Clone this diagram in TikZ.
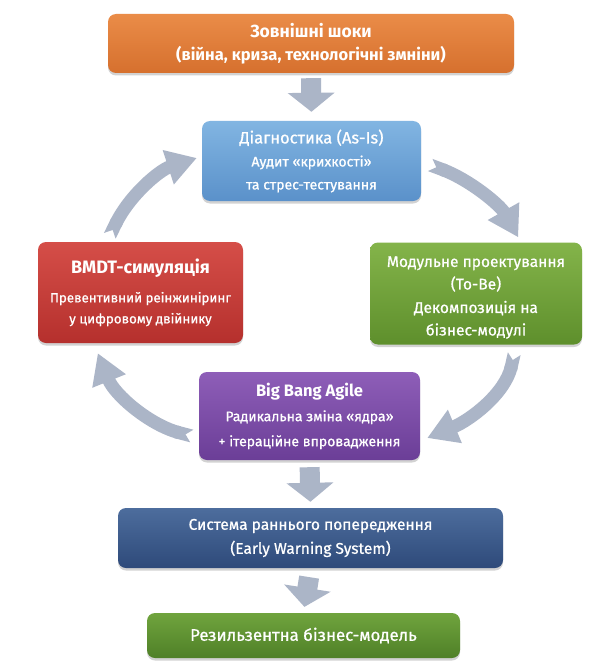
\documentclass[tikz,border=0pt]{standalone}
\usepackage{fontspec}
\setmainfont{Fira Sans}
\newfontfamily\med{Fira Sans}[FakeBold=0.8]
\usetikzlibrary{arrows.meta,shadows,calc}
\definecolor{arrgray}{HTML}{ABB5C7}
\definecolor{orT}{HTML}{EA8C48}\definecolor{orB}{HTML}{D6702E}
\definecolor{blT}{HTML}{82B5E2}\definecolor{blB}{HTML}{5A91CA}
\definecolor{rdT}{HTML}{D54E48}\definecolor{rdB}{HTML}{B5302D}
\definecolor{gnT}{HTML}{84B44A}\definecolor{gnB}{HTML}{5E8F2C}
\definecolor{puT}{HTML}{8E5EB8}\definecolor{puB}{HTML}{6B3E97}
\definecolor{nvT}{HTML}{4D6D9D}\definecolor{nvB}{HTML}{2E4A7A}
\definecolor{g2T}{HTML}{70A43E}\definecolor{g2B}{HTML}{4F8027}
\newcommand{\fs}[2]{\fontsize{#1}{#2}\selectfont}
\tikzset{
  box/.style={rounded corners=8pt, inner sep=0pt, text=white, align=center,
    drop shadow={opacity=0.35, shadow xshift=0pt, shadow yshift=-2.5pt}},
  boxtext/.style={inner sep=0pt, text=white, align=center},
  downarr/.style={draw=arrgray, line width=20pt, -{Triangle[width=46pt,length=19pt]}},
  cyclearr/.style={draw=arrgray, line width=13pt, {Triangle Cap[reversed]}-{Triangle[width=34pt,length=30pt]}},
}
\begin{document}
\begin{tikzpicture}[x=1pt,y=-1pt]
\useasboundingbox (0,0) rectangle (602,666);
\fill[white] (0,0) rectangle (602,666);

\node[box, top color=orT, bottom color=orB, minimum width=406pt, minimum height=59pt,
  font=\fs{16.5}{23}] (shock) at (311,43.5)
  {\fs{17.5}{23}\bfseries Зовнішні шоки\\ \fs{16.5}{23}\bfseries (війна, криза, технологічні змніни)};

\node[box, top color=blT, bottom color=blB, minimum width=219pt, minimum height=80pt,
  font=\fs{14}{23}] (diag) at (311.5,161)
  {\med\fs{16.5}{23}Діагностика (As-Is)\\
   \med\fs{14}{23}Аудит «крихкості»\\ \med\fs{14}{23}та стрес-тестування};

\node[box, top color=rdT, bottom color=rdB, minimum width=205pt, minimum height=101pt,
  font=\fs{13.5}{21}] (red) at (140.5,292.5)
  {\fs{18}{21}\bfseries BMDT-симуляція\\[8pt]
   \med\fs{13.3}{21}Превентивний реінжиніринг\\ \med\fs{13.3}{21}у цифровому двійнику};

\node[box, top color=gnT, bottom color=gnB, minimum width=212pt, minimum height=102pt] (mod) at (476,293.5) {};
\node[boxtext, font=\fs{15.5}{22.5}] (modt) at ($(mod.center)+(0,4)$)
  {\med\fs{15.5}{22.5}Модульне проектування\\ \med\fs{15.5}{22.5}(To-Be)\\[1pt]
   \med\fs{15.5}{22.5}Декомпозиція на\\ \med\fs{15.5}{22.5}бізнес-модулі};

\node[box, top color=puT, bottom color=puB, minimum width=221pt, minimum height=88pt,
  font=\fs{14}{25}] (bba) at (309.5,416)
  {\fs{16.5}{25}\bfseries Big Bang Agile\\
   \med\fs{14}{25}Радикальна зміна «ядра»\\ \med\fs{14}{25}+ ітераційне впровадження};

\node[box, top color=nvT, bottom color=nvB, minimum width=385pt, minimum height=60pt,
  font=\fs{15.5}{24}] (ews) at (310.5,538)
  {\med\fs{15.5}{24}Система раннього попередження\\ \med\fs{15.5}{24}(Early Warning System)};

\node[box, top color=g2T, bottom color=g2B, minimum width=313pt, minimum height=45pt,
  font=\fs{16.8}{20}] (res) at (303.5,635.5)
  {\med\fs{16.8}{20}Резильзентна бізнес-модель};

\draw[downarr, shorten <=5pt, shorten >=9pt] (shock.south) -- (diag.north);
\draw[downarr, shorten <=7pt, shorten >=6pt] (bba.south) -- (ews.north);
\draw[downarr, shorten <=9pt, shorten >=6pt] (ews.south) -- (res.north);

\coordinate (tlS) at ($(red.north west)+(72,-6)$);
\coordinate (tlE) at ($(diag.west)+(-5,-3)$);
\coordinate (trS) at ($(diag.east)+(9,4)$);
\coordinate (trE) at ($(mod.north east)+(-64,-5)$);
\coordinate (brS) at ($(mod.south east)+(-68,9)$);
\coordinate (brE) at ($(bba.east)+(7,22)$);
\coordinate (blS) at ($(bba.west)+(-7,20)$);
\coordinate (blE) at ($(red.south west)+(60,10)$);

\draw[cyclearr] (tlS) .. controls +(20,-41) and +(-37,12) .. (tlE);
\draw[cyclearr] (trS) .. controls +(40,15) and +(-18,-32) .. (trE);
\draw[cyclearr] (brS) .. controls +(-9,40) and +(43,-18) .. (brE);
\draw[cyclearr] (blS) .. controls +(-42,-11) and +(17,42) .. (blE);
\end{tikzpicture}
\end{document}
